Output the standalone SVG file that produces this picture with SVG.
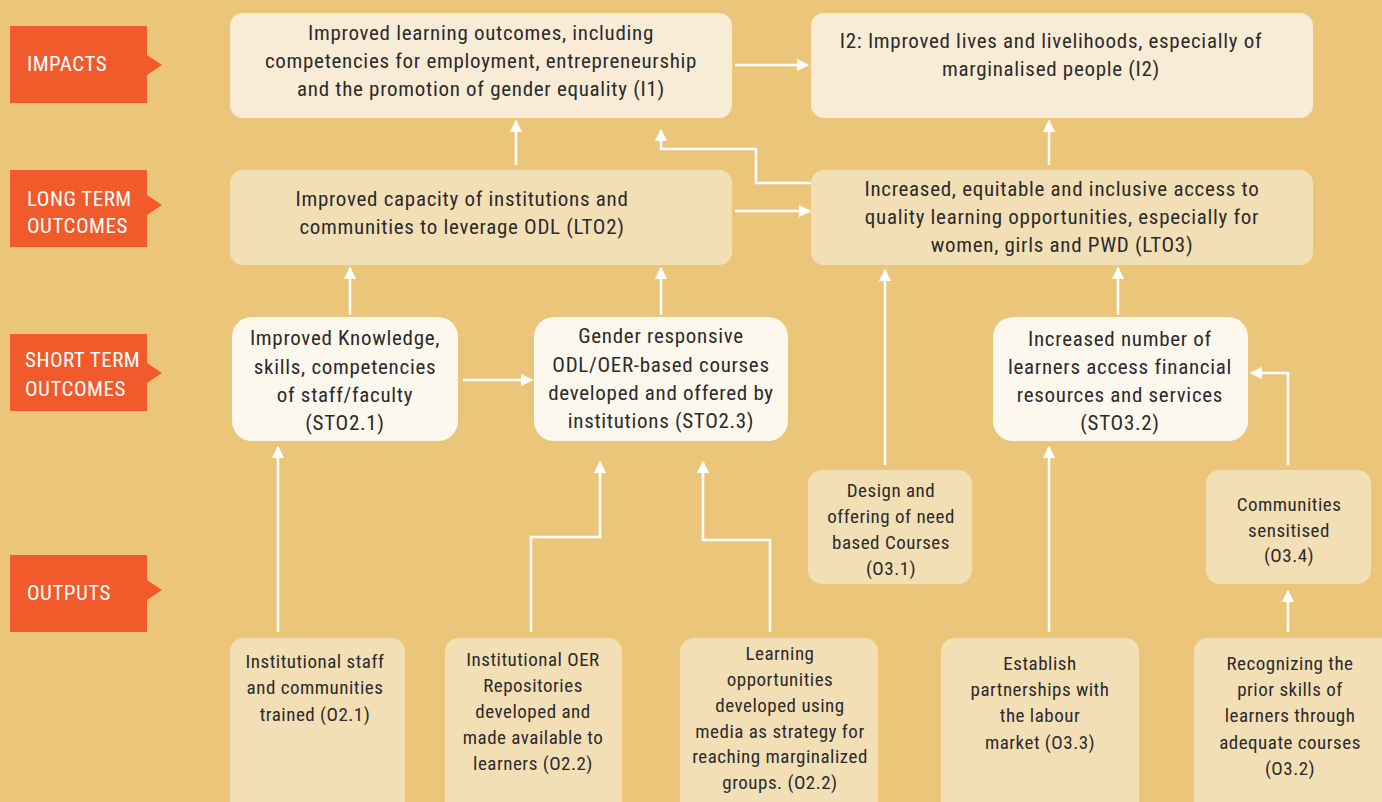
<svg xmlns="http://www.w3.org/2000/svg" width="1382" height="802" viewBox="0 0 1382 802">
<defs>
<style>
.bg{fill:#EBC67A}
.lab{fill:#F15A2B}
.labt{fill:#FFFFFF;font-family:"Roboto Condensed",Roboto,sans-serif;font-size:21px;letter-spacing:0.5px}
.imp{fill:#F8ECD6}
.lto{fill:#F3DFB6}
.sto{fill:#FCF8EE}
.out{fill:#F3DFB6}
.t{fill:#2B2B2B;font-family:"Roboto Condensed",Roboto,sans-serif;font-size:21px;letter-spacing:0.7px;text-anchor:middle}
.ts{fill:#2B2B2B;font-family:"Roboto Condensed",Roboto,sans-serif;font-size:19px;letter-spacing:0.5px;text-anchor:middle}
.c{fill:none;stroke:#FFFFFF;stroke-width:2.5;marker-end:url(#ah)}
</style>
<marker id="ah" viewBox="0 0 10 10" refX="9" refY="5" markerWidth="5" markerHeight="5" orient="auto" markerUnits="strokeWidth">
<path d="M0,0 L10,5 L0,10 Z" fill="#FFFFFF"/>
</marker>
</defs>
<rect class="bg" x="0" y="0" width="1382" height="802"/>

<g id="label-impacts">
<path class="lab" d="M10,26 H147 V55 L162,65 L147,75 V103 H10 Z"/>
<text class="labt" x="27" y="71">IMPACTS</text>
</g>
<g id="label-lto">
<path class="lab" d="M10,170 H147 V195 L162,205 L147,215 V247 H10 Z"/>
<text class="labt" x="27" y="206">LONG TERM</text>
<text class="labt" x="27" y="233">OUTCOMES</text>
</g>
<g id="label-sto">
<path class="lab" d="M10,334 H147 V363 L162,373 L147,383 V411 H10 Z"/>
<text class="labt" x="25" y="367">SHORT TERM</text>
<text class="labt" x="25" y="396">OUTCOMES</text>
</g>
<g id="label-outputs">
<path class="lab" d="M10,555 H147 V580 L162,590 L147,600 V632 H10 Z"/>
<text class="labt" x="27" y="600">OUTPUTS</text>
</g>

<g id="connectors">
<path class="c" d="M735,65 H808"/>
<path class="c" d="M516,165 V121"/>
<path class="c" d="M811,183 H756 V149 H661 V130"/>
<path class="c" d="M735,211 H810"/>
<path class="c" d="M1049,165 V121"/>
<path class="c" d="M350,315 V268"/>
<path class="c" d="M661,315 V268"/>
<path class="c" d="M463,380 H532"/>
<path class="c" d="M885,465 V270"/>
<path class="c" d="M1118,315 V268"/>
<path class="c" d="M1288,465 V373 H1251"/>
<path class="c" d="M278,632 V447"/>
<path class="c" d="M531,632 V537 H600 V462"/>
<path class="c" d="M770,632 V540 H703 V462"/>
<path class="c" d="M1049,632 V447"/>
<path class="c" d="M1288,632 V591"/>
</g>

<g id="I1">
<rect class="imp" x="230" y="13" width="502" height="105" rx="13"/>
<text class="t" x="481" y="40">Improved learning outcomes, including</text>
<text class="t" x="481" y="68">competencies for employment, entrepreneurship</text>
<text class="t" x="481" y="96">and the promotion of gender equality (I1)</text>
</g>
<g id="I2">
<rect class="imp" x="811" y="13" width="502" height="105" rx="13"/>
<text class="t" x="1051" y="48">I2: Improved lives and livelihoods, especially of</text>
<text class="t" x="1051" y="76">marginalised people (I2)</text>
</g>
<g id="LTO2">
<rect class="lto" x="230" y="170" width="502" height="95" rx="13"/>
<text class="t" x="462" y="206">Improved capacity of institutions and</text>
<text class="t" x="462" y="234">communities to leverage ODL (LTO2)</text>
</g>
<g id="LTO3">
<rect class="lto" x="811" y="170" width="502" height="95" rx="13"/>
<text class="t" x="1062" y="196">Increased, equitable and inclusive access to</text>
<text class="t" x="1062" y="224">quality learning opportunities, especially for</text>
<text class="t" x="1062" y="252">women, girls and PWD (LTO3)</text>
</g>
<g id="STO2.1">
<rect class="sto" x="232" y="317" width="226" height="124" rx="20"/>
<text class="t" x="345" y="345">Improved Knowledge,</text>
<text class="t" x="345" y="374">skills, competencies</text>
<text class="t" x="345" y="402">of staff/faculty</text>
<text class="t" x="345" y="430">(STO2.1)</text>
</g>
<g id="STO2.3">
<rect class="sto" x="534" y="317" width="254" height="124" rx="20"/>
<text class="t" x="661" y="343">Gender responsive</text>
<text class="t" x="661" y="372">ODL/OER-based courses</text>
<text class="t" x="661" y="400">developed and offered by</text>
<text class="t" x="661" y="428">institutions (STO2.3)</text>
</g>
<g id="STO3.2">
<rect class="sto" x="993" y="317" width="255" height="124" rx="20"/>
<text class="t" x="1120" y="346">Increased number of</text>
<text class="t" x="1120" y="374">learners access financial</text>
<text class="t" x="1120" y="402">resources and services</text>
<text class="t" x="1120" y="430">(STO3.2)</text>
</g>
<g id="O3.1">
<rect class="out" x="808" y="470" width="164" height="114" rx="14"/>
<text class="ts" x="891" y="497">Design and</text>
<text class="ts" x="891" y="523">offering of need</text>
<text class="ts" x="891" y="549">based Courses</text>
<text class="ts" x="891" y="575">(O3.1)</text>
</g>
<g id="O3.4">
<rect class="out" x="1206" y="470" width="165" height="114" rx="14"/>
<text class="ts" x="1289" y="511">Communities</text>
<text class="ts" x="1289" y="537">sensitised</text>
<text class="ts" x="1289" y="562">(O3.4)</text>
</g>
<g id="O2.1">
<rect class="out" x="230" y="638" width="175" height="180" rx="14"/>
<text class="ts" x="315" y="668">Institutional staff</text>
<text class="ts" x="315" y="694">and  communities</text>
<text class="ts" x="315" y="721">trained (O2.1)</text>
</g>
<g id="O2.2a">
<rect class="out" x="445" y="638" width="177" height="180" rx="14"/>
<text class="ts" x="533" y="666">Institutional OER</text>
<text class="ts" x="533" y="692">Repositories</text>
<text class="ts" x="533" y="718">developed and</text>
<text class="ts" x="533" y="744">made available to</text>
<text class="ts" x="533" y="770">learners (O2.2)</text>
</g>
<g id="O2.2b">
<rect class="out" x="680" y="638" width="198" height="180" rx="14"/>
<text class="ts" x="780" y="660">Learning</text>
<text class="ts" x="780" y="686">opportunities</text>
<text class="ts" x="780" y="712">developed using</text>
<text class="ts" x="780" y="738">media as strategy for</text>
<text class="ts" x="780" y="763">reaching marginalized</text>
<text class="ts" x="780" y="789">groups. (O2.2)</text>
</g>
<g id="O3.3">
<rect class="out" x="941" y="638" width="198" height="180" rx="14"/>
<text class="ts" x="1040" y="670">Establish</text>
<text class="ts" x="1040" y="696">partnerships with</text>
<text class="ts" x="1040" y="722">the labour</text>
<text class="ts" x="1040" y="749">market (O3.3)</text>
</g>
<g id="O3.2">
<rect class="out" x="1194" y="638" width="200" height="180" rx="14"/>
<text class="ts" x="1290" y="670">Recognizing the</text>
<text class="ts" x="1290" y="696">prior skills of</text>
<text class="ts" x="1290" y="722">learners through</text>
<text class="ts" x="1290" y="749">adequate courses</text>
<text class="ts" x="1290" y="775">(O3.2)</text>
</g>
</svg>
